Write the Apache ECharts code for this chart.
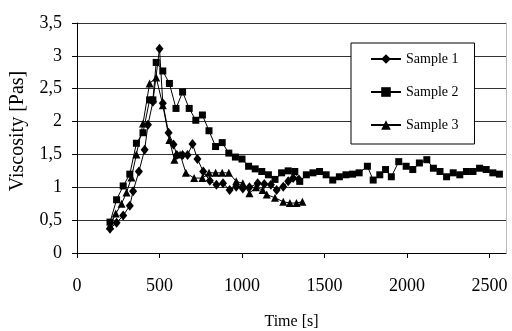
<!DOCTYPE html>
<html><head><meta charset="utf-8">
<script src="https://cdn.jsdelivr.net/npm/echarts@6/dist/echarts.min.js"></script>
<style>html,body{margin:0;padding:0;background:#fff}#c{width:512px;height:331px}</style>
</head><body><div id="c"></div>
<script>
var seriesNames = ['Sample 1', 'Sample 2', 'Sample 3'];
var xTicks = [0, 500, 1000, 1500, 2000, 2500];
var yTicks = ['0', '0,5', '1', '1,5', '2', '2,5', '3', '3,5'];

var t1 = [200,240,280,320,340,375,410,430,460,500,520,555,585,605,640,670,700,730,765,805,845,885,925,965,1005,1045,1095,1135,1175,1210,1250,1280,1310,1345];
var v1 = [0.37,0.46,0.57,0.72,0.94,1.24,1.57,1.95,2.3,3.11,2.28,1.83,1.65,1.49,1.49,1.49,1.66,1.43,1.24,1.1,1.04,1.06,0.96,1.01,0.98,1.0,1.06,1.05,1.04,0.96,1.01,1.09,1.14,1.12];

var t2 = [200,240,280,320,360,400,440,460,480,520,560,600,640,680,720,760,800,840,880,920,960,1000,1040,1080,1120,1160,1200,1240,1280,1320,1350,1390,1430,1470,1510,1550,1590,1630,1670,1710,1760,1795,1835,1870,1905,1950,1995,2035,2075,2120,2160,2200,2240,2280,2320,2360,2400,2440,2480,2520,2560];
var v2 = [0.47,0.81,1.02,1.2,1.67,1.83,2.33,2.33,2.9,2.77,2.58,2.2,2.45,2.2,2.02,2.1,1.86,1.62,1.68,1.52,1.46,1.43,1.32,1.28,1.24,1.19,1.12,1.22,1.25,1.24,1.09,1.19,1.22,1.24,1.19,1.11,1.16,1.19,1.2,1.22,1.32,1.11,1.19,1.27,1.16,1.39,1.32,1.27,1.37,1.42,1.29,1.24,1.16,1.22,1.19,1.24,1.24,1.29,1.27,1.22,1.2];

var t3 = [200,235,270,300,330,360,400,440,480,520,560,590,625,660,710,760,800,840,880,920,965,1005,1045,1085,1125,1150,1200,1250,1290,1330,1366];
var v3 = [0.42,0.6,0.75,0.92,1.15,1.5,1.97,2.58,2.67,2.25,1.72,1.42,1.5,1.22,1.14,1.14,1.22,1.22,1.22,1.22,1.09,1.06,0.91,1.0,0.96,0.89,0.84,0.78,0.76,0.76,0.78];

function pairs(t, v) { return t.map(function (x, i) { return [x, v[i]]; }); }

var FONT = 'Liberation Serif';
var chart = echarts.init(document.getElementById('c'), null, { renderer: 'canvas' });
var symbols = [['diamond', [8, 10]], ['rect', 7], ['triangle', 8]];
var datas = [pairs(t1, v1), pairs(t2, v2), pairs(t3, v3)];

chart.setOption({
  animation: false,
  backgroundColor: '#fff',
  textStyle: { fontFamily: FONT, color: '#000' },
  grid: { left: 77, right: 6, top: 23, bottom: 78, containLabel: false, outerBoundsMode: 'none' },
  legend: {
    left: 351, top: 43,
    orient: 'vertical',
    itemWidth: 30, itemHeight: 12, itemGap: 19,
    padding: [9, 16, 12, 19],
    borderColor: '#000', borderWidth: 1,
    backgroundColor: '#fff',
    textStyle: { fontFamily: FONT, fontSize: 14, color: '#000' },
    data: seriesNames
  },
  xAxis: {
    type: 'value', min: 0, max: 2600, interval: 500,
    name: 'Time [s]', nameLocation: 'middle', nameGap: 61,
    nameTextStyle: { fontFamily: FONT, fontSize: 16, color: '#000' },
    axisLine: { show: true, onZero: false, lineStyle: { color: '#000', width: 1 } },
    axisTick: { show: true, length: 5, inside: false, customValues: xTicks, lineStyle: { color: '#000' } },
    axisLabel: {
      customValues: xTicks, margin: 24, fontFamily: FONT, fontSize: 18, color: '#000',
      formatter: function (v) { return String(v); }
    },
    splitLine: { show: false }
  },
  yAxis: [{
    type: 'value', min: 0, max: 3.5, interval: 0.5,
    name: 'Viscosity [Pas]', nameLocation: 'middle', nameGap: 49,
    nameTextStyle: { fontFamily: FONT, fontSize: 20, color: '#000', padding: [0, 0, 0, 14] },
    axisLine: { show: true, lineStyle: { color: '#000', width: 1 } },
    axisTick: { show: true, length: 5, lineStyle: { color: '#000' } },
    axisLabel: {
      margin: 15, fontFamily: FONT, fontSize: 18, color: '#000',
      formatter: function (v) { return yTicks[Math.round(v / 0.5)]; }
    },
    splitLine: { show: true, lineStyle: { color: '#333', width: 1 } }
  }, {
    type: 'value', min: 0, max: 3.5, interval: 0.5, position: 'right',
    axisLine: { show: true, lineStyle: { color: '#bbb', width: 1 } },
    axisTick: { show: false }, axisLabel: { show: false }, splitLine: { show: false }
  }],
  series: seriesNames.map(function (n, i) {
    return {
      name: n, type: 'line', data: datas[i],
      symbol: symbols[i][0], symbolSize: symbols[i][1], showSymbol: true,
      itemStyle: { color: '#000', borderWidth: 0 },
      lineStyle: { color: '#000', width: 1 },
      z: 3 - i
    };
  })
});
</script></body></html>
